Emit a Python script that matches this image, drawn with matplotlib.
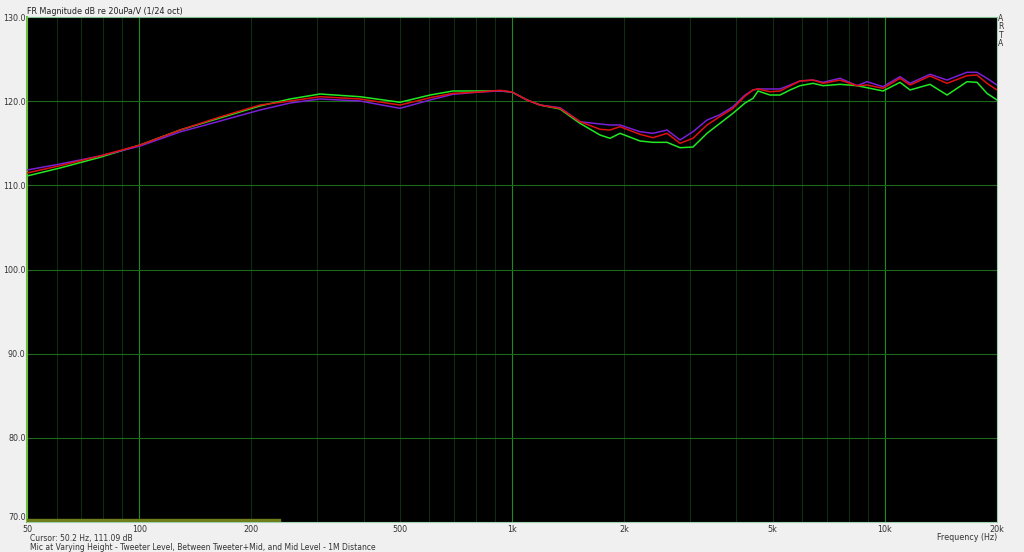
import numpy as np
import matplotlib
matplotlib.use("Agg")
import matplotlib.pyplot as plt
from matplotlib.ticker import FixedLocator, NullLocator

# frequency points (Hz)
freq = [50, 61.3, 78.5, 100.5, 128.6, 164.7, 210.9, 253.8, 305.4, 391.1,
        500.7, 602.6, 694.6, 820.7, 928.5, 1000, 1097, 1189, 1345, 1522,
        1722, 1832, 1949, 2205, 2389, 2606, 2823, 3058, 3335, 3613,
        3915, 4218, 4432, 4571, 4921, 5235, 5569, 5924, 6418, 6828,
        7583, 8424, 8961, 9892, 10987, 11687, 13221, 14688, 16614, 17672,
        18798, 20000]

# magnitude dB, three mic heights
green = [111.11, 112.06, 113.33, 114.79, 116.57, 118.00, 119.43, 120.26, 120.85, 120.53,
         119.87, 120.73, 121.21, 121.21, 121.21, 121.09, 120.14, 119.54, 119.07, 117.37,
         115.98, 115.59, 116.18, 115.27, 115.11, 115.11, 114.47, 114.55, 116.18, 117.37,
         118.56, 119.78, 120.34, 121.21, 120.73, 120.73, 121.33, 121.84, 122.12, 121.84,
         122.00, 121.84, 121.60, 121.21, 122.24, 121.33, 122.00, 120.73, 122.31, 122.24,
         120.93, 120.14]

red = [111.47, 112.33, 113.49, 114.79, 116.57, 118.12, 119.54, 120.02, 120.53, 120.26,
       119.54, 120.41, 120.93, 121.09, 121.29, 121.09, 120.14, 119.54, 119.15, 117.56,
       116.66, 116.57, 116.97, 116.06, 115.66, 116.18, 114.99, 115.59, 117.17, 118.18,
       119.15, 120.61, 121.33, 121.45, 121.12, 121.21, 121.80, 122.40, 122.51, 122.12,
       122.51, 121.84, 121.92, 121.53, 122.72, 121.92, 122.99, 122.12, 123.03, 123.11,
       122.12, 121.33]

purple = [111.82, 112.53, 113.49, 114.67, 116.34, 117.64, 118.95, 119.78, 120.26, 120.02,
          119.15, 120.14, 120.82, 121.09, 121.21, 121.09, 120.14, 119.54, 119.22, 117.56,
          117.29, 117.17, 117.17, 116.37, 116.18, 116.57, 115.39, 116.37, 117.76, 118.39,
          119.34, 120.73, 121.33, 121.45, 121.45, 121.45, 121.92, 122.40, 122.51, 122.24,
          122.72, 121.84, 122.31, 121.72, 122.91, 122.12, 123.19, 122.51, 123.43, 123.43,
          122.72, 121.92]

xticks = [50, 100, 200, 500, 1000, 2000, 5000, 10000, 20000]
xlabels = ["50", "100", "200", "500", "1k", "2k", "5k", "10k", "20k"]
yticks = [70, 80, 90, 100, 110, 120, 130]

fig = plt.figure(figsize=(10.24, 5.52), dpi=100, facecolor="#f0f0f0")
ax = fig.add_axes([27/1024, 1-522/552, 970/1024, 505/552])
ax.set_facecolor("black")

ax.set_xscale("log")
ax.set_xlim(50, 20000)
ax.set_ylim(70, 130)

# grid lines like ARTA
majors = (100, 1000, 10000)
minor = [int(f) for dec in (10, 100, 1000, 10000) for f in np.arange(1, 10) * dec
         if 50 < f < 20000 and int(f) not in majors]
for f in minor:
    ax.axvline(f, color="#0e2c0e", lw=0.8, zorder=1)
for f in majors:
    ax.axvline(f, color="#1f8a1f", lw=0.8, zorder=1)
for v in range(80, 130, 10):
    ax.axhline(v, color="#1b6a1b", lw=0.8, zorder=1)

ax.plot(freq, green, color="#22e822", lw=1.1, zorder=3)
ax.plot(freq, purple, color="#7a1fd6", lw=1.1, zorder=4)
ax.plot(freq, red, color="#e01010", lw=1.1, zorder=5)

# olive strip at bottom left
ax.axhspan(70, 70.35, xmin=0, xmax=253/970, color="#6f7d1a", zorder=6)

ax.xaxis.set_major_locator(FixedLocator(xticks))
ax.xaxis.set_minor_locator(NullLocator())
ax.set_xticklabels(xlabels)
ax.set_yticks(yticks)
ax.set_yticklabels([f"{v:.1f}" for v in yticks])
ax.tick_params(axis="both", length=0, labelsize=5.8, colors="#333333", pad=2)
ax.tick_params(axis="y", pad=1)
ax.get_yticklabels()[0].set_va("bottom")

for side in ("right", "bottom"):
    ax.spines[side].set_color("#9fd0b0")
    ax.spines[side].set_linewidth(0.8)
ax.spines["top"].set_color("#7fc090")
ax.spines["top"].set_linewidth(0.8)
ax.spines["left"].set_color("#6fbf3f")
ax.spines["left"].set_linewidth(1.5)

fig.text(27/1024, 1-12/552, "FR Magnitude dB re 20uPa/V (1/24 oct)",
         fontsize=5.8, color="#222222", va="center", ha="left")
fig.text(1001/1024, 1-31/552, "A\nR\nT\nA", fontsize=5.5, color="#333333",
         va="center", ha="center", linespacing=0.95)
fig.text(997/1024, 1-538/552, "Frequency (Hz)", fontsize=5.8, color="#333333",
         va="center", ha="right")
fig.text(30/1024, 1-539/552, "Cursor: 50.2 Hz, 111.09 dB", fontsize=5.5,
         color="#333333", va="center", ha="left")
fig.text(30/1024, 1-547/552,
         "Mic at Varying Height - Tweeter Level, Between Tweeter+Mid, and Mid Level - 1M Distance",
         fontsize=5.5, color="#333333", va="center", ha="left")

fig.savefig("out.png", dpi=100, facecolor=fig.get_facecolor())
